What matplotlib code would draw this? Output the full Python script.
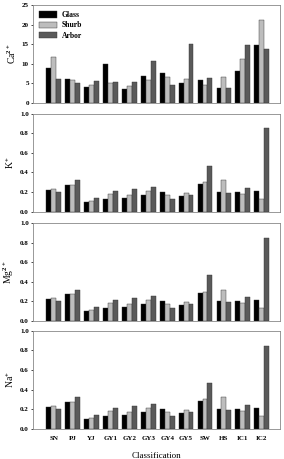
import numpy as np
from matplotlib import pyplot as plt

# Kategoriar og seriar
sites = ['SN', 'PJ', 'YJ', 'GY1', 'GY2', 'GY3', 'GY4', 'GY5', 'SW', 'HS', 'IC1', 'IC2']
series = ['Glass', 'Shurb', 'Arbor']

ca_glass = [8.8, 6.0, 4.0, 10.0, 3.5, 6.8, 7.6, 5.0, 5.9, 3.7, 8.1, 14.7]
ca_shurb = [11.6, 5.9, 4.5, 5.1, 4.3, 5.8, 6.7, 6.1, 4.5, 6.6, 11.2, 21.3]
ca_arbor = [6.2, 5.0, 5.6, 5.4, 5.2, 10.7, 4.6, 15.1, 6.3, 3.8, 14.7, 13.7]

k_glass = [0.22, 0.27, 0.10, 0.13, 0.14, 0.17, 0.20, 0.16, 0.28, 0.20, 0.20, 0.21]
k_shurb = [0.23, 0.27, 0.11, 0.18, 0.17, 0.21, 0.17, 0.19, 0.30, 0.32, 0.18, 0.13]
k_arbor = [0.20, 0.32, 0.14, 0.21, 0.23, 0.25, 0.13, 0.17, 0.47, 0.19, 0.24, 0.85]

mg_glass = [0.22, 0.27, 0.10, 0.13, 0.14, 0.17, 0.20, 0.16, 0.28, 0.20, 0.20, 0.21]
mg_shurb = [0.23, 0.27, 0.11, 0.18, 0.17, 0.21, 0.17, 0.19, 0.30, 0.32, 0.18, 0.13]
mg_arbor = [0.20, 0.32, 0.14, 0.21, 0.23, 0.25, 0.13, 0.17, 0.47, 0.19, 0.24, 0.85]

na_glass = [0.22, 0.27, 0.10, 0.13, 0.14, 0.17, 0.20, 0.16, 0.28, 0.20, 0.20, 0.21]
na_shurb = [0.23, 0.27, 0.11, 0.18, 0.17, 0.21, 0.17, 0.19, 0.30, 0.32, 0.18, 0.13]
na_arbor = [0.20, 0.32, 0.14, 0.21, 0.23, 0.25, 0.13, 0.17, 0.47, 0.19, 0.24, 0.85]

panels = [
    ('Ca$^{2+}$', [ca_glass, ca_shurb, ca_arbor], 25, [0, 5, 10, 15, 20, 25]),
    ('K$^{+}$', [k_glass, k_shurb, k_arbor], 1.0, [0.0, 0.2, 0.4, 0.6, 0.8, 1.0]),
    ('Mg$^{2+}$', [mg_glass, mg_shurb, mg_arbor], 1.0, [0.0, 0.2, 0.4, 0.6, 0.8, 1.0]),
    ('Na$^{+}$', [na_glass, na_shurb, na_arbor], 1.0, [0.0, 0.2, 0.4, 0.6, 0.8, 1.0]),
]

plt.rcParams['font.family'] = 'Liberation Serif'
plt.rcParams['font.weight'] = 'bold'
plt.rcParams['mathtext.fontset'] = 'custom'
plt.rcParams['mathtext.rm'] = 'Liberation Serif:bold'
plt.rcParams['mathtext.it'] = 'Liberation Serif:bold'
plt.rcParams['mathtext.bf'] = 'Liberation Serif:bold'

colors = ['#000000', '#bdbdbd', '#5a5a5a']
w = 0.26
x = np.arange(len(sites))

fig = plt.figure(figsize=(2.84, 4.59), dpi=100)
tops = [0.989, 0.752, 0.514, 0.279]
h = 0.213

for i, (lab, data, ymax, ticks) in enumerate(panels):
    ax = fig.add_axes([0.116, tops[i] - h, 0.870, h])
    for j in range(3):
        ax.bar(x + (j - 1) * w, data[j], w, color=colors[j],
               edgecolor='#303030', linewidth=0.3, label=series[j])
    ax.set_xlim(-1.1, 11.97)
    ax.set_ylim(0, ymax)
    ax.set_yticks(ticks)
    if ymax == 25:
        ax.set_yticklabels([str(t) for t in ticks])
    else:
        ax.set_yticklabels([f'{t:.1f}' for t in ticks])
    ax.tick_params(axis='y', labelsize=5, length=1.5, width=0.5, pad=1.5)
    ax.set_ylabel(lab, fontsize=7, labelpad=3)
    for s in ax.spines.values():
        s.set_color('#888888')
        s.set_linewidth(0.6)
    ax.set_xticks(x)
    if i == 3:
        ax.set_xticklabels(sites)
        ax.tick_params(axis='x', labelsize=5, length=0, pad=5)
        ax.set_xlabel('Classification', fontsize=6.5, labelpad=8)
    else:
        ax.set_xticklabels([])
        ax.tick_params(axis='x', length=0)
    if i == 0:
        ax.legend(loc='upper left', fontsize=5.5, frameon=False,
                  handlelength=2.4, handleheight=0.9, labelspacing=0.3,
                  borderaxespad=0.4, handletextpad=0.6)

plt.savefig('out.png', dpi=100)
